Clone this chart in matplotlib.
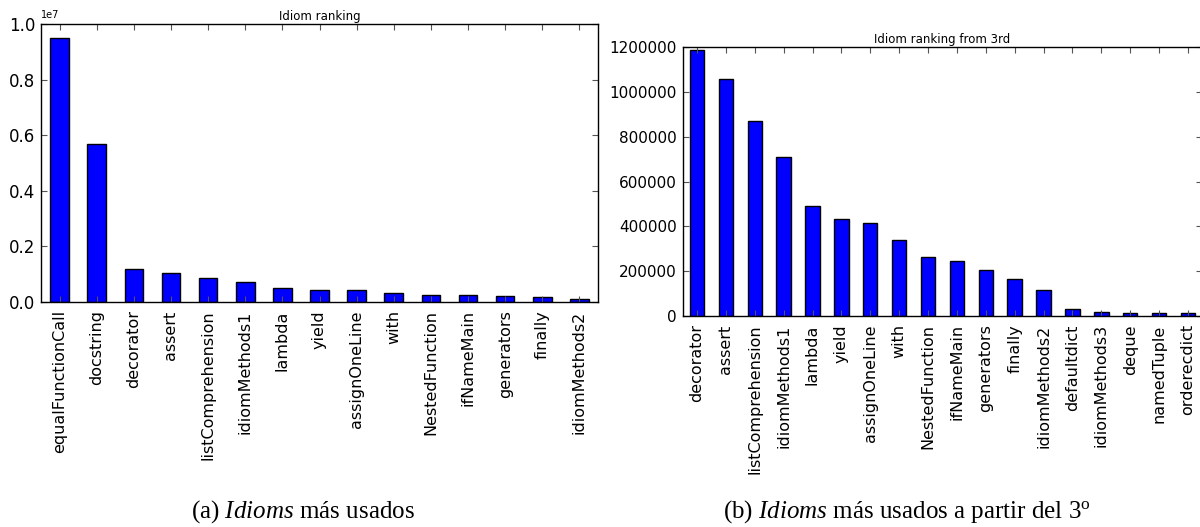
import matplotlib
matplotlib.use("Agg")
import matplotlib.pyplot as plt
import numpy as np

# Data
labels_all = ["equalFunctionCall", "docstring", "decorator", "assert",
              "listComprehension", "idiomMethods1", "lambda", "yield",
              "assignOneLine", "with", "NestedFunction", "ifNameMain",
              "generators", "finally", "idiomMethods2"]
values_all = [9500000, 5700000, 1188000, 1059000, 869000, 708000, 492000,
              434000, 417000, 339000, 264000, 244000, 206000, 165000, 114000]

labels_3rd = ["decorator", "assert", "listComprehension", "idiomMethods1",
              "lambda", "yield", "assignOneLine", "with", "NestedFunction",
              "ifNameMain", "generators", "finally", "idiomMethods2",
              "defaultdict", "idiomMethods3", "deque", "namedTuple", "orderecdict"]
values_3rd = [1188000, 1059000, 869000, 708000, 492000, 434000, 417000,
              339000, 264000, 244000, 206000, 165000, 114000, 33000, 19000,
              15000, 15000, 15000]

yticks_all = [0.0, 0.2e7, 0.4e7, 0.6e7, 0.8e7, 1.0e7]
yticks_3rd = [0, 200000, 400000, 600000, 800000, 1000000, 1200000]

titles = ["Idiom ranking", "Idiom ranking from 3rd"]
captions = ["(a) $\\mathit{Idioms}$ más usados",
            "(b) $\\mathit{Idioms}$ más usados a partir del 3$^{\\mathrm{o}}$"]

plt.rcParams["font.family"] = "DejaVu Sans"
plt.rcParams["mathtext.fontset"] = "custom"
plt.rcParams["mathtext.rm"] = "Liberation Serif"
plt.rcParams["mathtext.it"] = "Liberation Serif:italic"

fig = plt.figure(figsize=(12, 5.27), dpi=100)
fig.patch.set_facecolor("white")

W, H = 1200, 527
ax1 = fig.add_axes([41 / W, 1 - 302 / H, 557 / W, 278 / H])
ax2 = fig.add_axes([682.5 / W, 1 - 316 / H, 520 / W, 269 / H])


def style(ax, labels, values, yticks, title, ylabfmt, ysize):
    x = np.arange(len(labels))
    ax.bar(x, values, width=0.5, color="#0000ff", edgecolor="black", linewidth=1.0)
    ax.set_xlim(-0.5, len(labels) - 0.5)
    ax.set_ylim(yticks[0], yticks[-1])
    ax.set_xticks(x)
    ax.set_xticklabels(labels, rotation=90, fontsize=11.5)
    ax.set_yticks(yticks)
    ax.set_yticklabels([ylabfmt(v) for v in yticks], fontsize=ysize)
    ax.tick_params(direction="in", length=4, top=True, right=True, width=0.8,
                   colors="#555555", labelcolor="black", pad=4)
    ax.tick_params(axis="x", pad=6)
    for s in ax.spines.values():
        s.set_color("black")
        s.set_linewidth(1.0)
    ax.set_title(title, fontsize=8.5, pad=3)


style(ax1, labels_all, values_all, yticks_all, titles[0],
      lambda v: "%.1f" % (v / 1e7), 12)
style(ax2, labels_3rd, values_3rd, yticks_3rd, titles[1],
      lambda v: "%d" % v, 11)

fig.text(41 / W, 1 - 20 / H, "1e7", fontsize=7, ha="left", va="bottom")

fig.text(303 / W, 1 - 512 / H, captions[0], fontsize=18, ha="center", va="center",
         family="Liberation Serif")
fig.text(907 / W, 1 - 512 / H, captions[1], fontsize=18, ha="center", va="center",
         family="Liberation Serif")

fig.savefig("out.png", dpi=100, facecolor="white")
